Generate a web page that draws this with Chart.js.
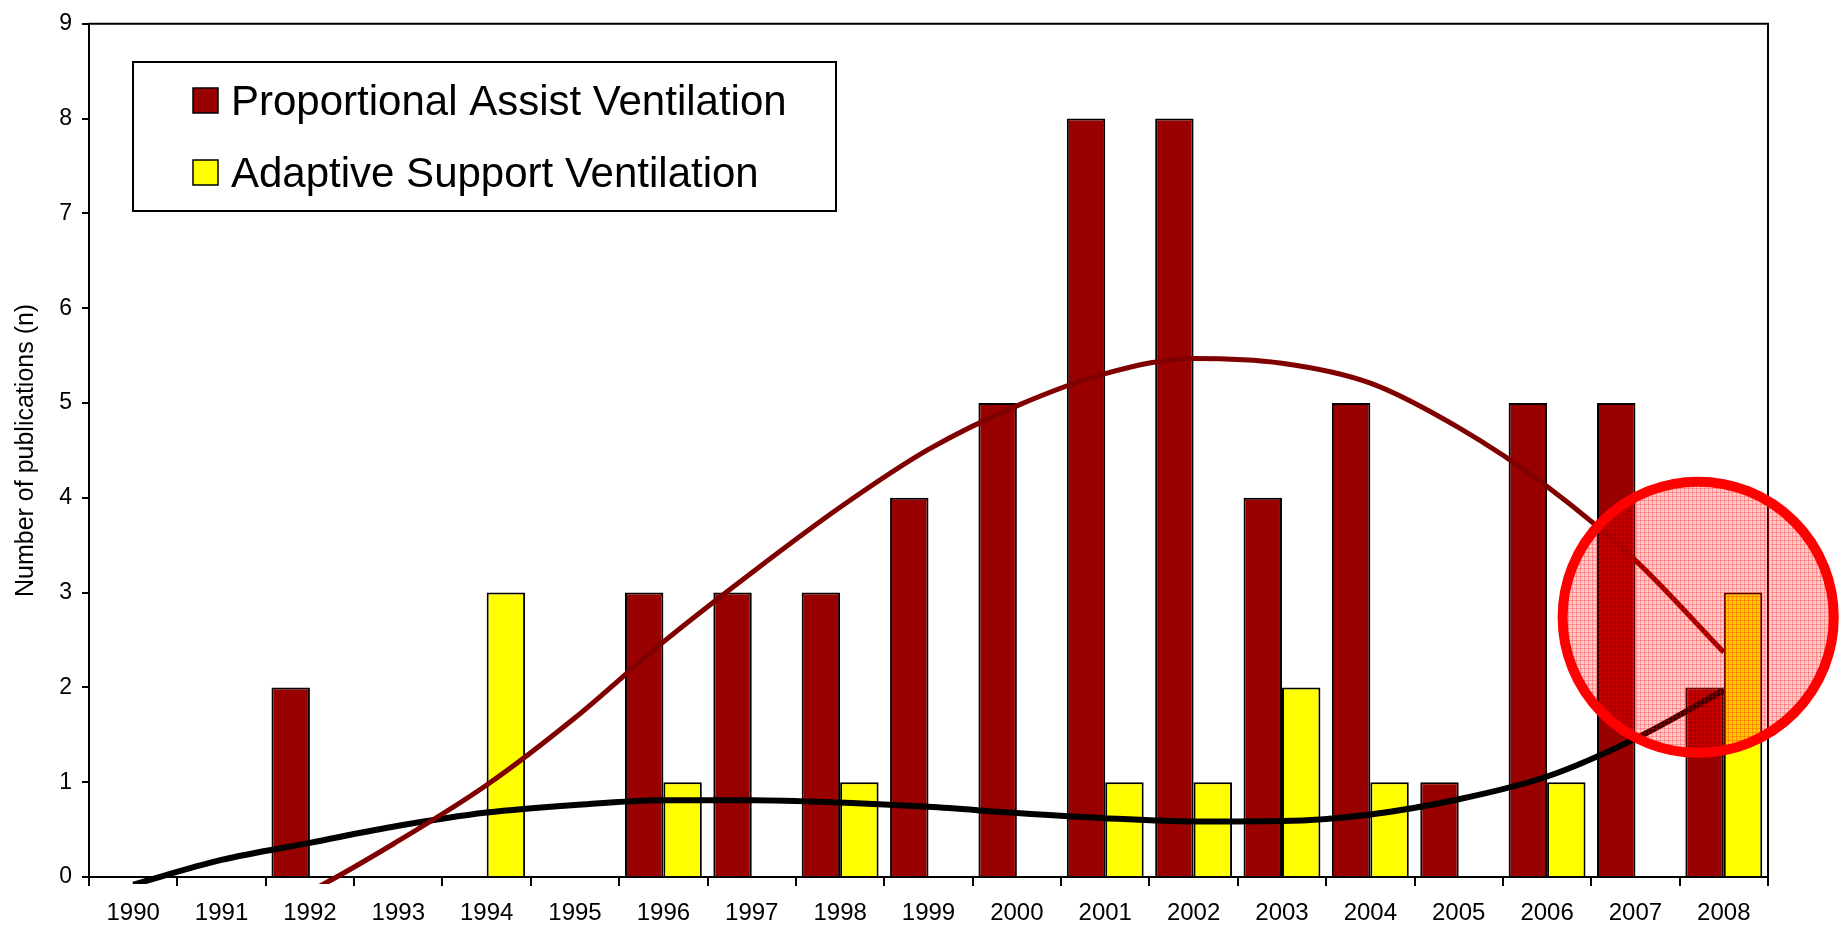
<!DOCTYPE html>
<html>
<head>
<meta charset="utf-8">
<title>Publications per year</title>
<script src="https://cdn.jsdelivr.net/npm/chart.js@4.4.1/dist/chart.umd.min.js"></script>
<style>
    html, body { margin: 0; padding: 0; background: #fff; }
    canvas { display: block; }
</style>
</head>
<body>
<canvas id="pubChart" width="1842" height="928"></canvas>
<script>
// years on the x axis
const years = ['1990', '1991', '1992', '1993', '1994', '1995', '1996', '1997', '1998', '1999',
               '2000', '2001', '2002', '2003', '2004', '2005', '2006', '2007', '2008'];

// publication counts per year
const pavCounts = [0, 0, 2, 0, 0, 0, 3, 3, 3, 4, 5, 8, 8, 4, 5, 1, 5, 5, 2];
const asvCounts = [0, 0, 0, 0, 3, 0, 1, 0, 1, 0, 0, 1, 1, 2, 1, 0, 1, 0, 3];

// trend lines at each year
const pavTrend = [-1.0, -0.55, -0.15, 0.38, 0.97, 1.68, 2.48, 3.21, 3.90, 4.51,
                  4.97, 5.31, 5.47, 5.42, 5.21, 4.74, 4.12, 3.34, 2.37];
const asvTrend = [-0.08, 0.18, 0.36, 0.54, 0.68, 0.76, 0.81, 0.81, 0.785, 0.74,
                  0.675, 0.62, 0.585, 0.59, 0.66, 0.82, 1.06, 1.46, 1.97];

const yTicks = [0, 1, 2, 3, 4, 5, 6, 7, 8, 9];
const seriesNames = ['Proportional Assist Ventilation', 'Adaptive Support Ventilation'];
const yTitle = 'Number of publications (n)';

// highlight circle (category index, value, radius in value units)
const highlight = { x: 17.71, y: 2.74, r: 1.43 };

const FONT = '"Liberation Sans", Arial, sans-serif';

// pinkish grid texture for the circle fill
function makeCirclePattern(ctx) {
    const tile = document.createElement('canvas');
    tile.width = 4;
    tile.height = 4;
    const t = tile.getContext('2d');
    t.fillStyle = 'rgba(255, 0, 0, 0.22)';
    t.fillRect(0, 0, 4, 4);
    t.fillStyle = 'rgba(255, 0, 0, 0.25)';
    t.fillRect(0, 0, 4, 1);
    t.fillRect(0, 0, 1, 4);
    return ctx.createPattern(tile, 'repeat');
}

// legend box drawn inside the plot, like the original
const boxLegend = {
    id: 'boxLegend',
    afterDraw(chart) {
        const ctx = chart.ctx;
        ctx.save();
        ctx.fillStyle = '#fff';
        ctx.strokeStyle = '#000';
        ctx.lineWidth = 2;
        ctx.fillRect(133, 62, 703, 149);
        ctx.strokeRect(133, 62, 703, 149);

        const bars = chart.data.datasets.filter(ds => ds.type === 'bar');
        ctx.font = '42px ' + FONT;
        ctx.textBaseline = 'alphabetic';
        ctx.textAlign = 'left';
        bars.forEach((ds, i) => {
            const base = 115 + i * 72;
            ctx.fillStyle = ds.backgroundColor;
            ctx.lineWidth = 1.5;
            ctx.fillRect(193, base - 27, 25, 25);
            ctx.strokeRect(193, base - 27, 25, 25);
            ctx.fillStyle = '#000';
            ctx.fillText(ds.label, 231, base);
        });
        ctx.restore();
    }
};

// top and right frame of the plot, then the red highlight circle
const frameAndCircle = {
    id: 'frameAndCircle',
    afterDraw(chart) {
        const ctx = chart.ctx;
        const a = chart.chartArea;
        const xs = chart.scales.x;
        const ys = chart.scales.y;
        ctx.save();
        ctx.strokeStyle = '#000';
        ctx.lineWidth = 2;
        ctx.beginPath();
        ctx.moveTo(a.left, a.top);
        ctx.lineTo(a.right, a.top);
        ctx.lineTo(a.right, a.bottom);
        ctx.stroke();

        const cx = xs.getPixelForValue(highlight.x);
        const cy = ys.getPixelForValue(highlight.y);
        const r = ys.getPixelForValue(0) - ys.getPixelForValue(highlight.r);
        ctx.beginPath();
        ctx.arc(cx, cy, r, 0, Math.PI * 2);
        ctx.fillStyle = makeCirclePattern(ctx);
        ctx.fill();
        ctx.lineWidth = 10;
        ctx.strokeStyle = '#ff0000';
        ctx.stroke();
        ctx.restore();
    }
};

const ctx = document.getElementById('pubChart').getContext('2d');

new Chart(ctx, {
    data: {
        labels: years,
        datasets: [
            {
                type: 'line',
                label: 'PAV trend',
                data: pavTrend,
                borderColor: '#800000',
                borderWidth: 5,
                pointRadius: 0,
                cubicInterpolationMode: 'monotone',
                clip: { left: 5, top: 5, right: 5, bottom: 7 }
            },
            {
                type: 'line',
                label: 'ASV trend',
                data: asvTrend,
                borderColor: '#000',
                borderWidth: 6,
                pointRadius: 0,
                cubicInterpolationMode: 'monotone',
                clip: { left: 5, top: 5, right: 5, bottom: 7 }
            },
            {
                type: 'bar',
                label: seriesNames[0],
                data: pavCounts,
                backgroundColor: '#990000',
                borderColor: '#000',
                borderWidth: 2,
                categoryPercentage: 0.87,
                barPercentage: 1.0
            },
            {
                type: 'bar',
                label: seriesNames[1],
                data: asvCounts,
                backgroundColor: '#ffff00',
                borderColor: '#000',
                borderWidth: 2,
                categoryPercentage: 0.87,
                barPercentage: 1.0
            }
        ]
    },
    options: {
        responsive: false,
        animation: false,
        layout: {
            padding: { top: 22, right: 74, left: 0, bottom: 0 }
        },
        plugins: {
            legend: { display: false },
            tooltip: { enabled: false }
        },
        scales: {
            x: {
                grid: {
                    offset: true,
                    drawOnChartArea: false,
                    tickLength: 9,
                    color: '#000',
                    lineWidth: 2
                },
                border: { display: true, color: '#000', width: 2 },
                ticks: {
                    color: '#000',
                    font: { family: FONT, size: 24 },
                    padding: 13,
                    maxRotation: 0,
                    autoSkip: false
                },
                afterFit: (scale) => { scale.height = 51; }
            },
            y: {
                min: 0,
                max: 9,
                afterBuildTicks: (scale) => {
                    scale.ticks = yTicks.map(v => ({ value: v }));
                },
                grid: {
                    drawOnChartArea: false,
                    tickLength: 7,
                    color: '#000',
                    lineWidth: 2
                },
                border: { display: true, color: '#000', width: 2 },
                ticks: {
                    color: '#000',
                    font: { family: FONT, size: 23 },
                    padding: 10
                },
                title: {
                    display: true,
                    text: yTitle,
                    color: '#000',
                    font: { family: FONT, size: 25 },
                    padding: { top: 11, bottom: 0 }
                },
                afterFit: (scale) => { scale.width = 89; }
            }
        }
    },
    plugins: [boxLegend, frameAndCircle]
});
</script>
</body>
</html>
